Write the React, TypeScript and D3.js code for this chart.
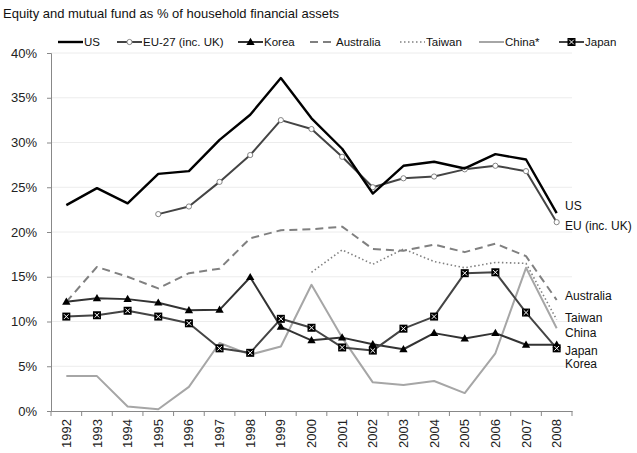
import React, { useEffect, useRef } from 'react';
import * as d3 from 'd3';

const years = ['1992','1993','1994','1995','1996','1997','1998','1999','2000','2001','2002','2003','2004','2005','2006','2007','2008'];
type V = number | null;
const us: V[] = [23.0, 24.9, 23.2, 26.5, 26.8, 30.3, 33.1, 37.2, 32.7, 29.3, 24.3, 27.4, 27.85, 27.1, 28.7, 28.1, 22.1];
const eu: V[] = [null, null, null, 22.0, 22.85, 25.6, 28.6, 32.5, 31.5, 28.4, 25.0, 26.0, 26.2, 27.0, 27.4, 26.8, 21.1];
const korea: V[] = [12.2, 12.6, 12.5, 12.1, 11.25, 11.3, 14.95, 9.4, 7.9, 8.2, 7.45, 6.9, 8.7, 8.1, 8.7, 7.4, 7.4];
const australia: V[] = [12.2, 16.1, 15.0, 13.7, 15.4, 15.9, 19.3, 20.2, 20.3, 20.6, 18.1, 17.9, 18.6, 17.75, 18.7, 17.3, 12.4];
const taiwan: V[] = [null, null, null, null, null, null, null, null, 15.5, 18.0, 16.4, 18.1, 16.7, 16.0, 16.6, 16.5, 10.2];
const china: V[] = [3.9, 3.9, 0.5, 0.2, 2.7, 7.6, 6.3, 7.2, 14.1, 8.2, 3.2, 2.9, 3.35, 2.0, 6.45, 16.0, 9.25];
const japan: V[] = [10.55, 10.7, 11.2, 10.55, 9.8, 7.0, 6.5, 10.3, 9.3, 7.1, 6.75, 9.2, 10.55, 15.4, 15.5, 11.0, 7.0];
const yTicks = [0, 5, 10, 15, 20, 25, 30, 35, 40];

const legendNames = ['US', 'EU-27 (inc. UK)', 'Korea', 'Australia', 'Taiwan', 'China*', 'Japan'];
const endLabels = ['US', 'EU (inc. UK)', 'Australia', 'Taiwan', 'China', 'Japan', 'Korea'];

const series = [
  { key: 'China*', values: china, color: '#a6a6a6', width: 2, dash: null, marker: null },
  { key: 'Australia', values: australia, color: '#808080', width: 2, dash: '8,5', marker: null },
  { key: 'Taiwan', values: taiwan, color: '#808080', width: 1.6, dash: '1.5,2.5', marker: null },
  { key: 'Korea', values: korea, color: '#333', width: 2, dash: null, marker: 'tri' },
  { key: 'Japan', values: japan, color: '#444', width: 2, dash: null, marker: 'box' },
  { key: 'EU-27 (inc. UK)', values: eu, color: '#444', width: 2, dash: null, marker: 'circle' },
  { key: 'US', values: us, color: '#000', width: 2.4, dash: null, marker: null },
];

const font = 'Liberation Sans, Arial, sans-serif';

function drawMarker(g: any, type: string | null, x: number, y: number) {
  if (type === 'tri') {
    g.append('path').attr('d', d3.symbol(d3.symbolTriangle, 30)()).attr('transform', `translate(${x},${y + 0.5})`).attr('fill', '#000');
  } else if (type === 'box') {
    g.append('rect').attr('x', x - 4).attr('y', y - 4).attr('width', 8).attr('height', 8).attr('fill', '#000');
    g.append('path').attr('d', `M${x - 2.3},${y - 2.3}L${x + 2.3},${y + 2.3}M${x - 2.3},${y + 2.3}L${x + 2.3},${y - 2.3}`).attr('stroke', '#fff').attr('stroke-width', 1);
  } else if (type === 'circle') {
    g.append('circle').attr('cx', x).attr('cy', y).attr('r', 2.6).attr('fill', '#fff').attr('stroke', '#777').attr('stroke-width', 0.9);
  }
}

export default function App() {
  const ref = useRef<SVGSVGElement>(null);

  useEffect(() => {
    const width = 637, height = 453;
    const svg = d3.select(ref.current).attr('width', width).attr('height', height);
    svg.selectAll('*').remove();

    const x = d3.scaleBand().domain(years).range([51, 572]).padding(0);
    const y = d3.scaleLinear().domain([0, 40]).range([411, 53]);
    const cx = (d: string) => (x(d) as number) + x.bandwidth() / 2;

    // title
    svg.append('text').attr('x', 3).attr('y', 18).attr('font-family', font).attr('font-size', 13).attr('fill', '#111')
      .text('Equity and mutual fund as % of household financial assets');

    // gridlines
    svg.append('g').selectAll('line').data(yTicks.filter(t => t > 0)).join('line')
      .attr('x1', 51).attr('x2', 572).attr('y1', d => y(d)).attr('y2', d => y(d))
      .attr('stroke', '#ececec').attr('stroke-width', 1);

    // y axis
    const yAxis = svg.append('g').attr('transform', 'translate(51,0)')
      .call(d3.axisLeft(y).tickValues(yTicks).tickSize(4).tickFormat(d => `${d}%`));
    yAxis.select('.domain').attr('stroke', '#888');
    yAxis.selectAll('.tick line').attr('stroke', '#888');
    yAxis.selectAll('text').attr('font-family', font).attr('font-size', 13).attr('fill', '#222').attr('x', -14);

    // x axis
    const xAxis = svg.append('g').attr('transform', 'translate(0,411)')
      .call(d3.axisBottom(x).tickSize(0).tickSizeOuter(0));
    xAxis.select('.domain').attr('stroke', '#888');
    xAxis.selectAll('text').attr('font-family', font).attr('font-size', 13).attr('fill', '#222')
      .attr('transform', 'rotate(-90)').attr('text-anchor', 'end').attr('x', -8).attr('y', 0).attr('dy', '0.35em');
    xAxis.append('g').selectAll('line').data(years.concat(['end'])).join('line')
      .attr('x1', (d, i) => 51 + i * x.bandwidth()).attr('x2', (d, i) => 51 + i * x.bandwidth())
      .attr('y1', 0).attr('y2', 5).attr('stroke', '#888');

    // lines
    const plot = svg.append('g');
    series.forEach(s => {
      const line = d3.line<V>().defined(v => v !== null).x((v, i) => cx(years[i])).y(v => y(v as number));
      plot.append('path').attr('d', line(s.values)).attr('fill', 'none').attr('stroke', s.color)
        .attr('stroke-width', s.width).attr('stroke-dasharray', s.dash).attr('stroke-linejoin', 'round');
      s.values.forEach((v, i) => { if (v !== null) drawMarker(plot, s.marker, cx(years[i]), y(v)); });
    });

    // legend
    const legendX = [58, 117, 238, 310, 400, 479, 559];
    const leg = svg.append('g');
    legendNames.forEach((name, i) => {
      const s = series.find(d => d.key === name)!;
      const lx = legendX[i];
      leg.append('line').attr('x1', lx).attr('x2', lx + 25).attr('y1', 42).attr('y2', 42)
        .attr('stroke', s.color).attr('stroke-width', s.width).attr('stroke-dasharray', s.dash);
      drawMarker(leg, s.marker, lx + 12.5, 42);
      leg.append('text').attr('x', lx + 26).attr('y', 42).attr('dy', '0.35em').attr('font-family', font)
        .attr('font-size', 11.5).attr('fill', '#111').text(name);
    });

    // end labels
    const endY = [206, 225.5, 296, 317.5, 332.5, 350.5, 364];
    svg.append('g').selectAll('text').data(endLabels).join('text')
      .attr('x', 565).attr('y', (d, i) => endY[i]).attr('dy', '0.35em')
      .attr('font-family', font).attr('font-size', 12).attr('fill', '#111').text(d => d);
  }, []);

  return (
    <div style={{ position: 'absolute', left: 0, top: 0, background: '#fff' }}>
      <svg ref={ref}></svg>
    </div>
  );
}
